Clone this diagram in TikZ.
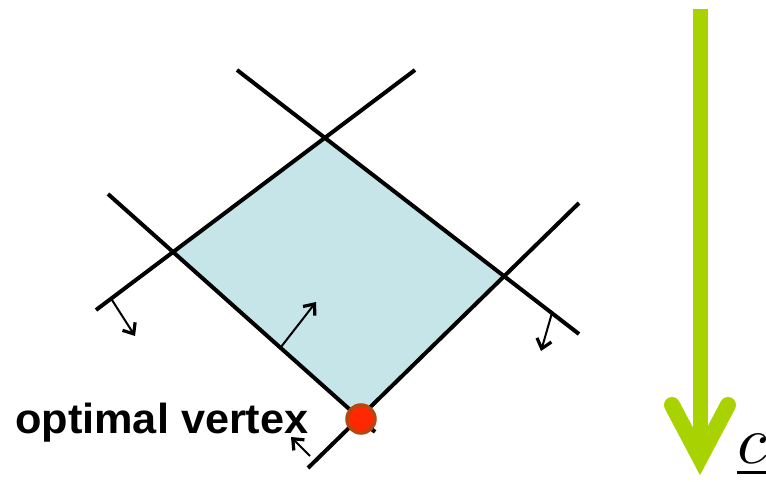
\documentclass[tikz,border=0pt]{standalone}
\usepackage{fontspec}
\newfontfamily\labelfont{Liberation Sans}
\usetikzlibrary{arrows.meta}
\definecolor{regionblue}{RGB}{197,229,233}
\definecolor{costgreen}{RGB}{168,210,0}
\definecolor{dotred}{RGB}{255,40,0}
\definecolor{dotrim}{RGB}{180,72,16}
\tikzset{
  constraint/.style={line width=4pt, black},
  normalarrow/.style={line width=2pt, -{Straight Barb[length=9pt,width=15pt,line width=3.2pt]}},
}
\begin{document}
\begin{tikzpicture}[x=1pt,y=-1pt]
\useasboundingbox (0,0) rectangle (766,482);
% vertices
\coordinate (T) at (325,138);
\coordinate (L) at (175,252);
\coordinate (B) at (360,418);
\coordinate (R) at (503,275);
% line ends
\coordinate (A1) at (237,70);
\coordinate (A2) at (579,334);
\coordinate (B1) at (415,70);
\coordinate (B2) at (96,310);
\coordinate (C1) at (108,194);
\coordinate (C2) at (375,432);
\coordinate (D1) at (579,203);
\coordinate (D2) at (308,468);
% feasible region
\fill[regionblue] (T) -- (R) -- (B) -- (L) -- cycle;
% constraint lines
\draw[constraint] (A1) -- (A2);
\draw[constraint] (B1) -- (B2);
\draw[constraint] (C1) -- (C2);
\draw[constraint] (D1) -- (D2);
% normals
\coordinate (n1s) at (112,300);
\coordinate (n1e) at (135,336);
\coordinate (n2s) at (281,347);
\coordinate (n2e) at (316,302);
\coordinate (n3s) at (552,313);
\coordinate (n3e) at (541,351);
\coordinate (n4s) at (310,456);
\coordinate (n4e) at (291,437);
\draw[normalarrow] (n1s) -- (n1e);
\draw[normalarrow] (n2s) -- (n2e);
\draw[normalarrow] (n3s) -- (n3e);
\draw[normalarrow] (n4s) -- (n4e);
% optimal vertex
\node[circle, fill=dotred, draw=dotrim, line width=3.5pt, minimum size=28pt, inner sep=0pt] (opt) at (361,419) {};
\node[anchor=base west, inner sep=0pt, font=\labelfont\bfseries\fontsize{42}{48}\selectfont] (optlabel) at (15,433) {\scalebox{1.03}[1]{optimal vertex}};
% cost direction
\coordinate (g1) at (700,9);
\coordinate (g2) at (700,458);
\coordinate (h1) at (672,405);
\coordinate (h2) at (728,405);
\draw[costgreen, line width=15pt] (g1) -- (g2);
\draw[costgreen, line width=16pt, line cap=round, line join=miter] (h1) -- (g2) -- (h2);
\node[anchor=south west, inner sep=0pt] (clabel) at (737,477) {\scalebox{6.8}{$\underline{c}$}};
\end{tikzpicture}
\end{document}
